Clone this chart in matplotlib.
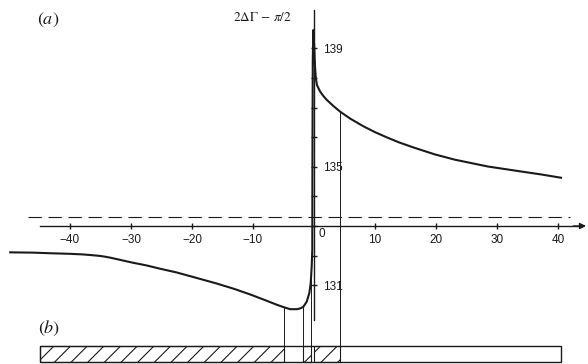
import numpy as np
import matplotlib
matplotlib.use("Agg")
import matplotlib.pyplot as plt
from matplotlib.patches import Rectangle

plt.rcParams['hatch.linewidth'] = 0.8

# curve: x (horizontal variable), value of 2ΔΓ - π/2
curve_x = [-49.8, -46.0, -43.3, -40.0, -37.9, -36.7, -35.1, -34.3, -33.4, -32.3,
           -31.0, -29.7, -27.5, -25.3, -22.5, -19.5, -16.0, -13.0, -10.5, -8.2,
           -6.1, -5.0, -3.9, -2.8, -2.2, -1.75, -1.2, -0.77, -0.54, -0.38,
           -0.28, -0.25, -0.2, -0.11, 0.05, 0.16, 0.3, 0.49, 0.98, 1.5,
           2.1, 3.2, 4.3, 6.0, 8.0, 10.0, 12.1, 14.0, 16.5, 19.8,
           23.1, 28.5, 34.0, 37.3, 40.5]
curve_y = [132.11, 132.10, 132.08, 132.06, 132.04, 132.02, 131.99, 131.965, 131.93, 131.88,
           131.82, 131.76, 131.67, 131.56, 131.43, 131.26, 131.06, 130.87, 130.69, 130.51,
           130.34, 130.26, 130.19, 130.19, 130.22, 130.27, 130.44, 130.73, 131.06, 131.62,
           132.19, 135.57, 138.6, 139.62, 139.0, 138.4, 138.0, 137.76, 137.55, 137.40,
           137.26, 137.05, 136.86, 136.62, 136.38, 136.17, 135.98, 135.82, 135.64, 135.42,
           135.24, 135.01, 134.84, 134.74, 134.63]

xticks = [-40, -30, -20, -10, 10, 20, 30, 40]
yticks = [131, 132, 133, 134, 135, 136, 137, 138, 139]
ylabels = {131: '131', 135: '135', 139: '139'}

asymptote = 133.31          # dashed line
x_axis_level = 133
connectors = [-4.87, -1.75, -0.49, 4.26]     # thin verticals down to (b)
bar_span = (-44.9, 40.5)
bar_y = (128.41, 128.95)
hatched = [(-44.9, -4.87), (-1.75, -0.49), (0.0, 4.26)]

ink = '#1a1a1a'

fig = plt.figure(figsize=(5.88, 3.64), dpi=100)
ax = fig.add_axes([0, 0, 1, 1])
ax.set_xlim(-51.475, 44.92)
ax.set_ylim(128.338, 140.635)
ax.patch.set_alpha(0)

# axes through the origin
for s in ['left', 'top']:
    ax.spines[s].set_visible(False)
ax.spines['bottom'].set_position(('data', x_axis_level))
ax.spines['bottom'].set_bounds(-44.9, 44.0)
ax.spines['right'].set_position(('data', 0))
ax.spines['right'].set_bounds(129.82, 140.30)
for s in ['bottom', 'right']:
    ax.spines[s].set_color(ink)
    ax.spines[s].set_linewidth(1.0)

ax.set_xticks(xticks)
ax.set_xticklabels([str(v).replace('-', '\u2212') for v in xticks])
ax.yaxis.set_ticks_position('right')
ax.set_yticks(yticks)
ax.set_yticklabels([ylabels.get(v, '') for v in yticks])
ax.tick_params(axis='both', direction='inout', length=5, width=1.0, color=ink,
               labelcolor=ink, labelsize=8.5)
ax.tick_params(axis='x', pad=3)
ax.tick_params(axis='y', pad=4)
for lab in ax.get_xticklabels() + ax.get_yticklabels():
    lab.set_family('Liberation Sans')

ax.text(1.3, 132.72, '0', ha='center', va='center', fontsize=8.5,
        family='Liberation Sans', color=ink)
ax.annotate('', xy=(44.6, x_axis_level), xytext=(42.5, x_axis_level),
            arrowprops=dict(arrowstyle='-|>', color=ink, lw=1.0,
                            mutation_scale=9, shrinkA=0, shrinkB=0))

# dashed asymptote
ax.plot([-46.9, 41.97], [asymptote, asymptote], color=ink, lw=0.8,
        linestyle=(0, (12, 6)))

# the curve
ax.plot(curve_x, curve_y, color=ink, lw=1.5, solid_joinstyle='round')

# connectors from curve to panel (b)
for cx in connectors:
    top = np.interp(cx, curve_x, curve_y)
    ax.plot([cx, cx], [bar_y[0], top], color=ink, lw=0.7)

# panel (b): bar with hatched regions
for a, b in hatched:
    ax.add_patch(Rectangle((a, bar_y[0]), b - a, bar_y[1] - bar_y[0],
                           facecolor='none', edgecolor=ink, hatch='//', lw=0.8))
ax.add_patch(Rectangle((bar_span[0], bar_y[0]), bar_span[1] - bar_span[0],
                       bar_y[1] - bar_y[0], facecolor='none', edgecolor=ink, lw=1.0))

# labels
ax.text(-43.6, 139.95, r'$(a)$', fontsize=13, math_fontfamily='stix',
        ha='center', va='center', color=ink)
ax.text(-43.5, 129.55, r'$(b)$', fontsize=13, math_fontfamily='stix',
        ha='center', va='center', color=ink)
ax.text(-8.4, 140.06, r'$2\Delta\mathit{\Gamma}\,-\,\pi/2$',
        fontsize=9.5, math_fontfamily='stix', ha='center', va='center', color=ink)

fig.savefig('out.png', dpi=100, facecolor='white')
